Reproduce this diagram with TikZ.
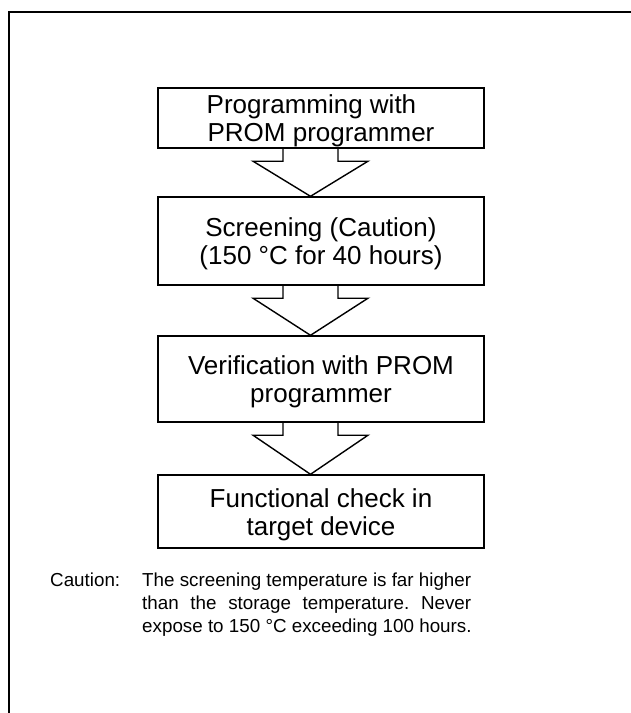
\documentclass[tikz,border=0pt]{standalone}
\usepackage{fontspec}
\setmainfont{Liberation Sans}
\usetikzlibrary{calc}
\frenchspacing
\tikzset{
  boxnode/.style={draw, line width=1.4pt, inner sep=0pt, minimum width=326pt},
  boxtext/.style={inner sep=0pt, align=center, font=\fontsize{26}{28}\selectfont},
  blk/.style={draw, line width=1.4pt, line join=miter},
  frame/.style={draw, line width=2pt},
  notefont/.style={font=\fontsize{18.8}{23}\selectfont, inner sep=0pt}
}
\begin{document}
\begin{tikzpicture}[x=1pt,y=-1pt]
\useasboundingbox (0,0) rectangle (631,713);
\coordinate (fa) at (8.5,713);
\coordinate (fb) at (8.5,12);
\coordinate (fc) at (631,12);
\draw[frame] (fa) -- (fb) -- (fc);

\node[boxnode, minimum height=60pt] (b1) at (321,118) {};
\node[boxnode, minimum height=88pt] (b2) at (321,241) {};
\node[boxnode, minimum height=86pt] (b3) at (321,379) {};
\node[boxnode, minimum height=73pt] (b4) at (321,511.5) {};

\node[boxtext] (t1) at ($(b1.center)+(0,2.5)$) {Programming with\hspace*{19pt}\\PROM programmer};
\node[boxtext] (t2) at ($(b2.center)+(0,2.5)$) {Screening (Caution)\\(150 °C for 40 hours)};
\node[boxtext] (t3) at ($(b3.center)+(0,2.5)$) {Verification with PROM\\programmer};
\node[boxtext] (t4) at ($(b4.center)+(0,3.5)$) {Functional check in\\target device};

\foreach \a/\b in {b1/b2,b2/b3,b3/b4}{
  \draw[blk] ($(\a.south)+(-38,0)$) -- ++(0,12.5) -- ++(-30,0) -- ($(\b.north)+(-10.5,0)$)
    -- ($(\a.south)+(47,12.5)$) -- ++(-30,0) -- ($(\a.south)+(17,0)$);
}

\node[notefont, anchor=base west] (cap) at (50,586) {Caution:};
\node[notefont, anchor=base west, align=left] (note) at (142,632)
  {\makebox[329pt][s]{The screening temperature is far higher}\\
   \makebox[329pt][s]{than the storage temperature. Never}\\
   expose to 150 °C exceeding 100 hours.};
\end{tikzpicture}
\end{document}
